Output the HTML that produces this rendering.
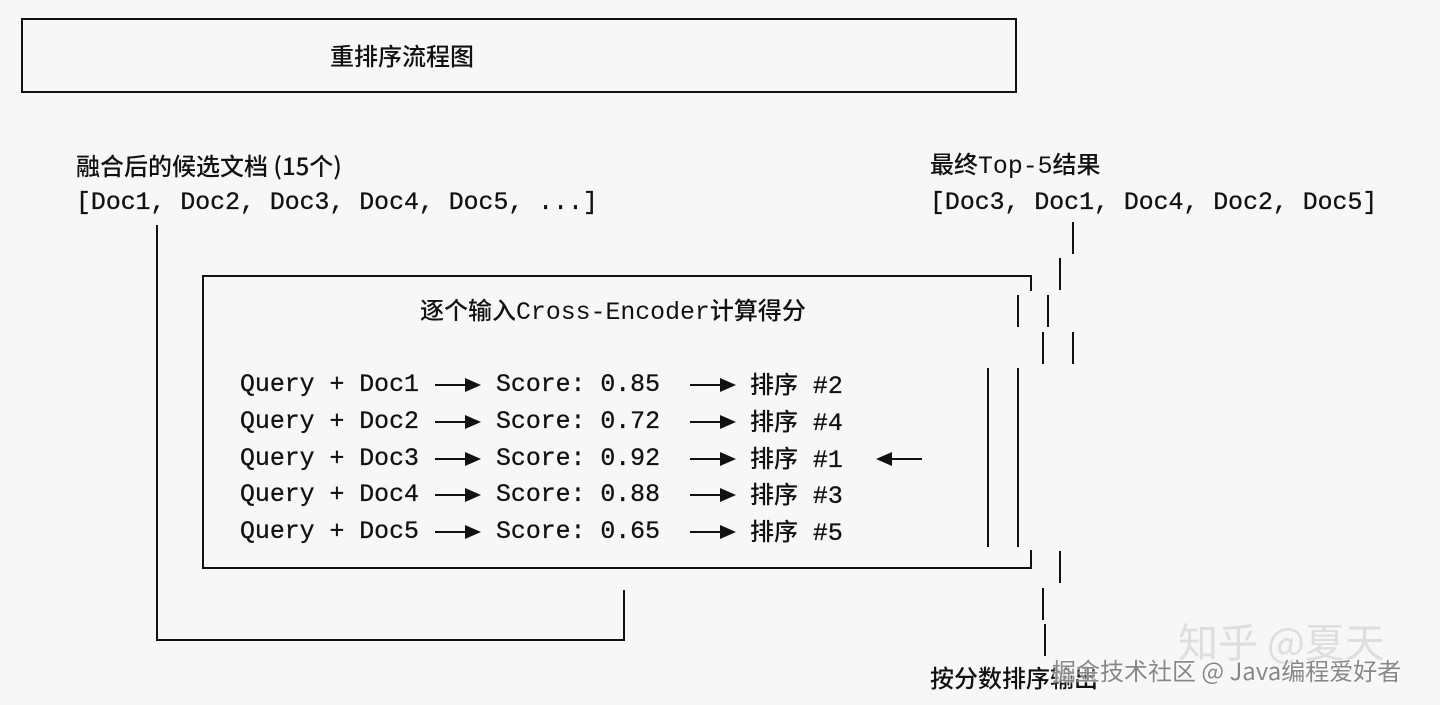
<!DOCTYPE html>
<html><head><meta charset="utf-8"><style>
body{margin:0;width:1440px;height:705px;background:#f7f7f7;position:relative;overflow:hidden;font-family:"Liberation Mono","Noto Sans CJK SC",monospace;color:#111}
.t{position:absolute;white-space:pre;font-size:24.85px;line-height:30px;transform:translateY(-50%);-webkit-text-stroke:0.3px #111}
.c{font-family:"Noto Sans CJK SC","Liberation Sans",sans-serif;font-size:24px;font-weight:500;-webkit-text-stroke:0}
.m{font-family:"Liberation Mono",monospace;font-size:24.85px;font-weight:normal}
.h{position:absolute;height:2px;background:#111}
.v{position:absolute;width:2px;background:#111}
.ar{position:absolute;width:46px;height:14px;transform:translateY(-50%)}
</style></head><body>
<div class="h" style="left:21px;top:18px;width:996px"></div>
<div class="h" style="left:21px;top:91px;width:996px"></div>
<div class="v" style="left:21px;top:18px;height:75px"></div>
<div class="v" style="left:1015px;top:18px;height:75px"></div>
<div class="t c" style="left:330px;top:55px">重排序流程图</div>

<div class="t c" style="left:76px;top:165px">融合后的候选文档 (15个)</div>
<div class="t" style="left:76px;top:203px">[Doc1, Doc2, Doc3, Doc4, Doc5, ...]</div>
<div class="t c" style="left:930px;top:165px">最终<span class="m">Top-5</span>结果</div>
<div class="t" style="left:930px;top:203px">[Doc3, Doc1, Doc4, Doc2, Doc5]</div>

<div class="v" style="left:156px;top:225px;height:416px"></div>
<div class="h" style="left:156px;top:639px;width:469px"></div>
<div class="v" style="left:623px;top:590px;height:51px"></div>

<div class="h" style="left:202px;top:275px;width:830px"></div>
<div class="h" style="left:202px;top:567px;width:830px"></div>
<div class="v" style="left:202px;top:275px;height:294px"></div>
<div class="v" style="left:1030px;top:275px;height:16px"></div>
<div class="v" style="left:1030px;top:550px;height:19px"></div>

<div class="t c" style="left:420px;top:311px">逐个输入<span class="m">Cross-Encoder</span>计算得分</div>

<div class="v" style="left:1072px;top:222px;height:32px"></div>
<div class="v" style="left:1059px;top:258px;height:32px"></div>
<div class="v" style="left:1017px;top:295px;height:32px"></div>
<div class="v" style="left:1047px;top:295px;height:32px"></div>
<div class="v" style="left:1042px;top:332px;height:32px"></div>
<div class="v" style="left:1072px;top:332px;height:32px"></div>
<div class="v" style="left:987px;top:368px;height:179px"></div>
<div class="v" style="left:1017px;top:368px;height:179px"></div>
<div class="v" style="left:1059px;top:551px;height:32px"></div>
<div class="v" style="left:1042px;top:588px;height:32px"></div>
<div class="v" style="left:1044px;top:624px;height:32px"></div>

<svg width="0" height="0" style="position:absolute"><defs>
<symbol id="a" viewBox="0 0 46 14"><rect x="0" y="6" width="36" height="2" fill="#111"/><polygon points="30,0 46,7 30,14" fill="#111"/></symbol>
</defs></svg>

<div class="t" style="left:240px;top:385px">Query + Doc1</div><svg class="ar" style="left:435px;top:385px"><use href="#a"/></svg><div class="t" style="left:496px;top:385px">Score: 0.85</div><svg class="ar" style="left:690px;top:385px"><use href="#a"/></svg><div class="t" style="left:750px;top:385px"><span class="c">排序</span> #2</div>
<div class="t" style="left:240px;top:422px">Query + Doc2</div><svg class="ar" style="left:435px;top:422px"><use href="#a"/></svg><div class="t" style="left:496px;top:422px">Score: 0.72</div><svg class="ar" style="left:690px;top:422px"><use href="#a"/></svg><div class="t" style="left:750px;top:422px"><span class="c">排序</span> #4</div>
<div class="t" style="left:240px;top:459px">Query + Doc3</div><svg class="ar" style="left:435px;top:459px"><use href="#a"/></svg><div class="t" style="left:496px;top:459px">Score: 0.92</div><svg class="ar" style="left:690px;top:459px"><use href="#a"/></svg><div class="t" style="left:750px;top:459px"><span class="c">排序</span> #1</div>
<div class="t" style="left:240px;top:495px">Query + Doc4</div><svg class="ar" style="left:435px;top:495px"><use href="#a"/></svg><div class="t" style="left:496px;top:495px">Score: 0.88</div><svg class="ar" style="left:690px;top:495px"><use href="#a"/></svg><div class="t" style="left:750px;top:495px"><span class="c">排序</span> #3</div>
<div class="t" style="left:240px;top:532px">Query + Doc5</div><svg class="ar" style="left:435px;top:532px"><use href="#a"/></svg><div class="t" style="left:496px;top:532px">Score: 0.65</div><svg class="ar" style="left:690px;top:532px"><use href="#a"/></svg><div class="t" style="left:750px;top:532px"><span class="c">排序</span> #5</div>
<svg class="ar" style="left:876px;top:459px;transform:translateY(-50%) scaleX(-1)"><use href="#a"/></svg>

<div class="t c" style="left:1178px;top:640px;font-size:40px;color:#dedede;font-weight:normal">知乎 @夏天</div>
<div class="t c" style="left:930px;top:677px">按分数排序输出</div>
<div class="t c" style="left:1052px;top:670px;font-size:24px;color:#888;font-weight:normal;text-shadow:0 0 2px #fff,0 0 2px #fff">掘金技术社区 @ Java编程爱好者</div>
</body></html>
